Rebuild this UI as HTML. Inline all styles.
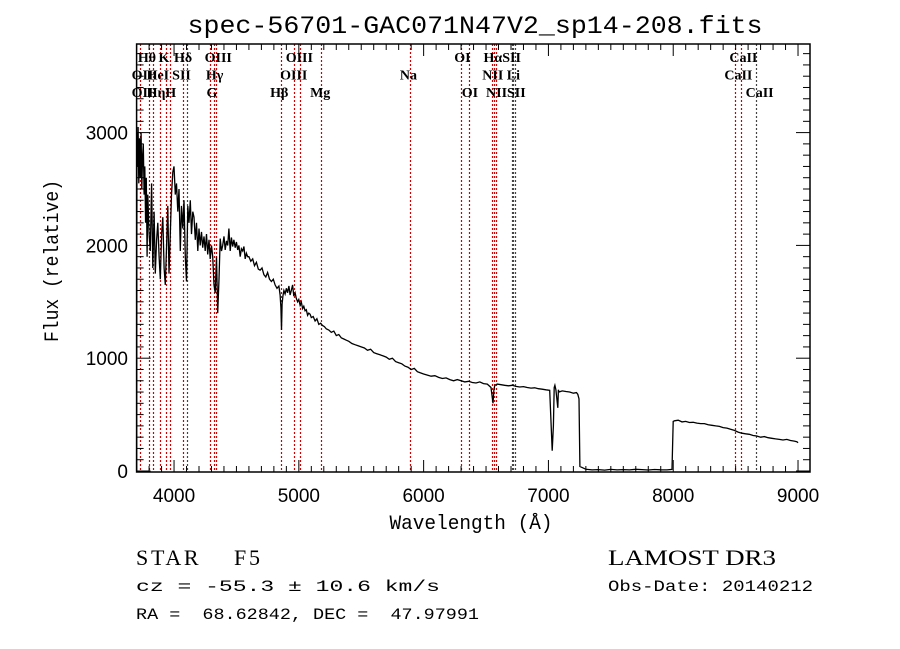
<!DOCTYPE html>
<html><head><meta charset="utf-8"><style>
body{margin:0;background:#fff}
svg{display:block}
text{font-family:"Liberation Sans",sans-serif;fill:#000}
.ser{font-family:"Liberation Serif",serif;font-size:14px}
.mono{font-family:"Liberation Mono",monospace}
</style></head><body>
<svg id="chart" width="900" height="649" viewBox="0 0 900 649" xmlns="http://www.w3.org/2000/svg">
<rect width="900" height="649" fill="#fff"/>
<text x="475" y="33" text-anchor="middle" font-size="25" class="mono" textLength="575" lengthAdjust="spacingAndGlyphs">spec-56701-GAC071N47V2_sp14-208.fits</text>
<g id="lines"></g>
<g id="labels"></g>
<path id="spec" fill="none" stroke="#000" stroke-width="1.3" stroke-linejoin="miter"/>
<g id="axes"></g>
<text x="471" y="529" text-anchor="middle" font-size="20" textLength="163" lengthAdjust="spacingAndGlyphs" class="mono">Wavelength (Å)</text>
<text transform="translate(58,261) rotate(-90)" text-anchor="middle" font-size="20" textLength="162" lengthAdjust="spacingAndGlyphs" class="mono">Flux (relative)</text>
<text x="136" y="565" class="ser" style="font-size:22px;white-space:pre" xml:space="preserve" textLength="124" lengthAdjust="spacing">STAR    F5</text>
<text x="608" y="565" class="ser" style="font-size:22px" textLength="168" lengthAdjust="spacingAndGlyphs">LAMOST DR3</text>
<text x="136" y="591" class="mono" font-size="16" textLength="304" lengthAdjust="spacingAndGlyphs">cz = -55.3 ± 10.6 km/s</text>
<text x="608" y="591" class="mono" font-size="16" textLength="205" lengthAdjust="spacingAndGlyphs">Obs-Date: 20140212</text>
<text x="136" y="619" class="mono" font-size="16" xml:space="preserve" style="white-space:pre" textLength="343" lengthAdjust="spacingAndGlyphs">RA =  68.62842, DEC =  47.97991</text>
</svg>
<script>
const wave=[3700,3703,3706,3712,3718,3724,3730,3736,3742,3748,3754,3760,3766,3772,3778,3784,3790,3800,3810,3820,3830,3840,3850,3860,3870,3880,3890,3900,3910,3920,3930,3940,3950,3960,3970,3980,3990,4000,4010,4020,4030,4040,4050,4060,4070,4080,4090,4100,4110,4120,4130,4140,4150,4160,4170,4180,4190,4200,4210,4220,4230,4240,4250,4260,4270,4280,4290,4300,4310,4320,4330,4340,4350,4360,4370,4380,4390,4400,4410,4420,4430,4440,4450,4460,4470,4480,4490,4500,4510,4520,4530,4540,4550,4560,4570,4580,4590,4600,4615,4630,4645,4660,4675,4690,4705,4720,4735,4750,4765,4780,4795,4810,4825,4840,4850,4856,4861,4866,4872,4880,4890,4900,4910,4920,4930,4940,4950,4960,4970,4980,4990,5000,5010,5020,5030,5040,5050,5060,5070,5080,5090,5100,5115,5130,5145,5160,5175,5190,5205,5220,5240,5260,5280,5300,5320,5340,5360,5380,5400,5425,5450,5475,5500,5525,5550,5575,5600,5625,5650,5675,5700,5725,5750,5775,5800,5825,5850,5875,5900,5925,5950,5975,6000,6030,6060,6090,6120,6150,6180,6210,6240,6270,6300,6330,6360,6390,6420,6450,6480,6510,6540,6556,6563,6570,6590,6620,6650,6680,6710,6740,6770,6800,6830,6860,6890,6920,6950,6980,7010,7030,7040,7046,7052,7060,7075,7080,7085,7110,7140,7170,7200,7225,7235,7245,7252,7300,7350,7400,7450,7500,7550,7600,7650,7700,7750,7800,7850,7900,7950,7990,8000,8010,8040,8070,8100,8130,8160,8190,8220,8250,8280,8310,8340,8370,8400,8430,8460,8490,8520,8550,8580,8610,8640,8670,8700,8730,8760,8790,8820,8850,8880,8910,8940,8970,8990,8996,9000];
const flux=[0,3000,2700,3050,2550,2950,2600,3000,2500,2800,2900,2450,2700,2200,2600,1900,2450,2100,1950,2550,1800,2300,1750,2050,2200,1900,1700,2100,2250,1800,1650,2000,2350,1750,2100,2450,2650,2700,2450,2550,2300,2500,1950,2350,2150,2400,1900,1680,2350,2200,2400,2100,2300,2250,2050,2200,1950,2150,2000,2120,1980,2080,1950,2100,1920,2050,1880,2000,1900,1650,1580,1900,1400,1700,2060,1950,2000,2080,1960,2040,2000,2150,1950,2070,1990,2050,1980,2030,1960,2000,1900,1970,1950,1990,1880,1930,1900,1900,1860,1880,1820,1850,1790,1780,1800,1740,1720,1760,1700,1680,1700,1650,1620,1640,1560,1450,1250,1480,1550,1600,1570,1620,1580,1640,1560,1600,1650,1550,1580,1530,1500,1520,1470,1500,1440,1460,1420,1430,1380,1400,1390,1360,1370,1330,1350,1300,1310,1290,1280,1260,1250,1230,1240,1200,1210,1180,1170,1160,1150,1130,1120,1110,1100,1090,1070,1080,1050,1040,1030,1020,1010,990,1000,970,960,950,930,920,900,910,880,870,860,850,840,845,830,820,825,810,800,810,800,790,795,785,780,790,775,770,740,600,720,760,770,765,760,755,760,750,745,748,740,735,738,730,725,720,715,180,400,740,760,720,560,720,700,710,705,700,690,695,680,640,40,15,10,12,8,14,10,12,10,15,12,9,13,11,10,14,440,445,450,435,440,430,432,425,420,420,410,405,400,395,385,380,370,360,345,335,330,325,315,310,300,305,295,290,285,280,275,280,270,265,260,255,250,230,5,0];
const lineWave=[3727,3798,3835,3889,3934,3969,4070,4102,4291,4317,4340,4861,4959,5007,5175,5893,6300,6364,6548,6563,6583,6708,6717,6731,8498,8542,8662];
const lineDark=[0,0,0,0,0,0,0,1,0,0,0,0,0,0,0,0,0,0,0,0,0,1,1,1,0,0,1];
const labelText=["Hθ","K","Hδ","OIII","OIII","OI","HαSII","CaII","OII","HeI","SII","Hγ","OIII","Na","NII Li","CaII","OII","Hη","H","G","Hβ","Mg","OI","NIISII","CaII"];
const labelWave=[3710,3875,4000,4245,4895,6245,6480,8450,3660,3780,3985,4255,4850,5810,6470,8410,3660,3780,3930,4260,4770,5090,6305,6500,8580];
const labelRow=[0,0,0,0,0,0,0,0,1,1,1,1,1,1,1,1,2,2,2,2,2,2,2,2,2];
const xTicks=[4000,5000,6000,7000,8000,9000];
const yTicks=[0,1000,2000,3000];

const X0=136.6,X1=810,W0=3700,W1=9096;
const Y0=471,YS=0.1128,YT=44;
const xs=w=>X0+(w-W0)*(X1-X0)/(W1-W0);
const ys=f=>Y0-f*YS;
const NS='http://www.w3.org/2000/svg';
function mk(tag,attrs,parent){const e=document.createElementNS(NS,tag);for(const k in attrs)e.setAttribute(k,attrs[k]);parent.appendChild(e);return e;}

let d='M'+xs(wave[0]).toFixed(1)+' '+ys(flux[0]).toFixed(1);
for(let i=1;i<wave.length;i++){d+=' L'+xs(wave[i]).toFixed(1)+' '+ys(flux[i]).toFixed(1);}
document.getElementById('spec').setAttribute('d',d);

const gl=document.getElementById('lines');
lineWave.forEach((w,i)=>{
  const x=Math.round(xs(w))+0.5;
  const l=mk('line',{x1:x,x2:x,y1:YT,y2:472,stroke:lineDark[i]?'#444':'#d00000','stroke-width':1.2,'stroke-dasharray':'2,2'},gl);
  
  
});
const glab=document.getElementById('labels');
labelText.forEach((t,i)=>{
  const e=mk('text',{x:xs(labelWave[i]),y:62+labelRow[i]*17.5,class:'ser','font-weight':'bold'},glab);
  e.textContent=t;
  
  
});

const ga=document.getElementById('axes');
mk('rect',{x:X0,y:YT,width:X1-X0,height:472-YT,fill:'none',stroke:'#000','stroke-width':1.5},ga);
for(let w=3700;w<=9000;w+=100){
  const major=w%1000===0, len=major?12:6, x=xs(w);
  mk('line',{x1:x,x2:x,y1:472,y2:472-len,stroke:'#000'},ga);
  mk('line',{x1:x,x2:x,y1:YT,y2:YT+len,stroke:'#000'},ga);
}
for(let f=0;f<=3700;f+=100){
  const major=f%1000===0,len=major?14:7,y=ys(f);
  mk('line',{x1:X0,x2:X0+len,y1:y,y2:y,stroke:'#000'},ga);
  mk('line',{x1:X1,x2:X1-len,y1:y,y2:y,stroke:'#000'},ga);
}
xTicks.forEach(w=>{
  const t=mk('text',{x:xs(w),y:502,'text-anchor':'middle','font-size':19},ga);
  t.textContent=w;
  
  
});
yTicks.forEach(f=>{
  const t=mk('text',{x:128,y:ys(f)+7,'text-anchor':'end','font-size':19},ga);
  t.textContent=f;
  
  
});
</script>
</body></html>
